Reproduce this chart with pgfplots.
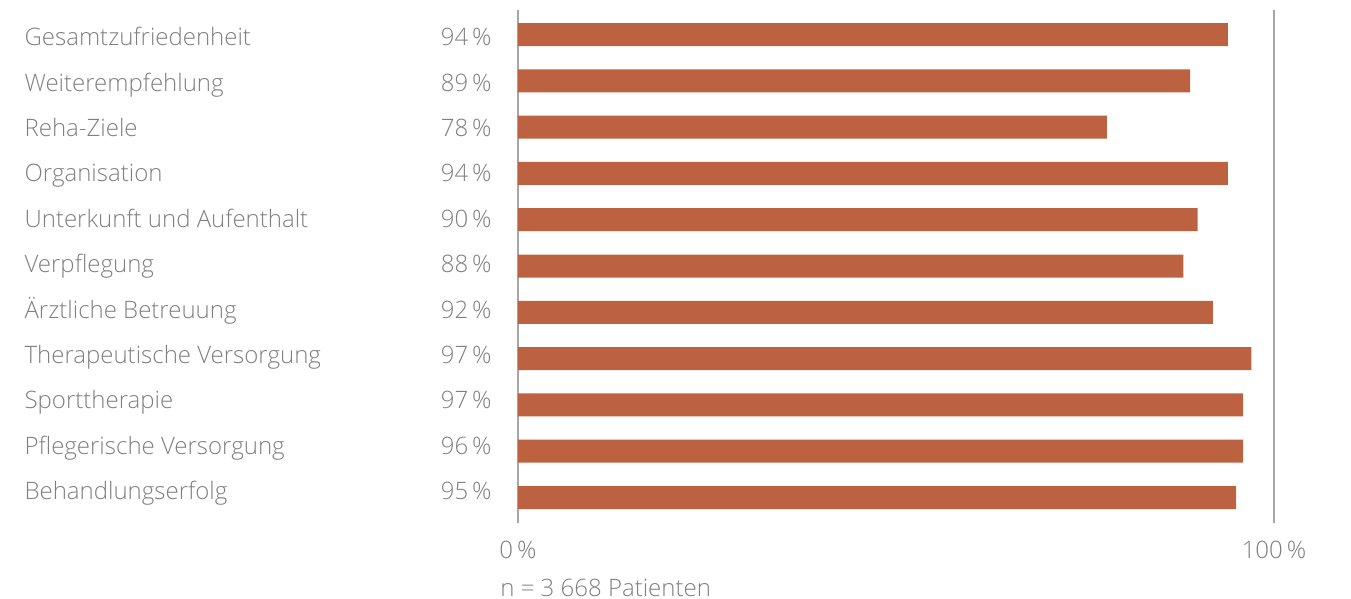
\documentclass[border=0pt]{standalone}
\usepackage{fontspec}
\setmainfont{Open Sans}[UprightFont=* Light]
\usepackage{pgfplots}
\pgfplotsset{compat=1.18}
\definecolor{barc}{RGB}{188,98,64}
\definecolor{txt}{RGB}{128,128,128}
\definecolor{gridgray}{RGB}{166,166,166}
\newcommand{\lab}[2]{\makebox[233.5pt]{#1\hfill#2\,\%}}
\begin{document}
\begin{tikzpicture}
\useasboundingbox (0pt,0pt) rectangle (675.5pt,299.5pt);
\begin{axis}[
  at={(259pt,38pt)}, anchor=south west,
  scale only axis, width=378pt, height=256.5pt,
  xbar, bar width=11.5pt,
  xmin=0, xmax=100,
  ymin=-0.53, ymax=10.55, y dir=reverse,
  ytick={0,...,10},
  yticklabels={
    \lab{Gesamtzufriedenheit}{94},
    \lab{Weiterempfehlung}{89},
    \lab{Reha-Ziele}{78},
    \lab{Organisation}{94},
    \lab{Unterkunft und Aufenthalt}{90},
    \lab{Verpflegung}{88},
    \lab{Ärztliche Betreuung}{92},
    \lab{Therapeutische Versorgung}{97},
    \lab{Sporttherapie}{97},
    \lab{Pflegerische Versorgung}{96},
    \lab{Behandlungserfolg}{95}},
  xtick={0,100}, xticklabels={0\,\%,100\,\%},
  xmajorgrids, grid style={gridgray, line width=1pt},
  axis line style={draw=none},
  major tick length=0pt,
  tick label style={font=\fontsize{12}{14}\selectfont, text=txt},
  yticklabel style={anchor=base east, inner sep=0pt, xshift=-13pt,
    yshift={-5.6pt+\ticknum*0.45pt}},
  xticklabel style={anchor=base, inner sep=0pt, yshift=-17.5pt},
  clip=false,
]
\addplot[fill=barc, draw=none] coordinates {
  (93.9,0) (88.9,1) (77.9,2) (93.9,3) (89.9,4) (88.0,5)
  (91.9,6) (97.0,7) (95.9,8) (95.9,9) (95.0,10)
};
\node[anchor=base west, font=\fontsize{12}{14}\selectfont, text=txt, inner sep=0pt]
  at (axis description cs:-0.0238,-0.1423) {n = 3 668 Patienten};
\end{axis}
\end{tikzpicture}
\end{document}
